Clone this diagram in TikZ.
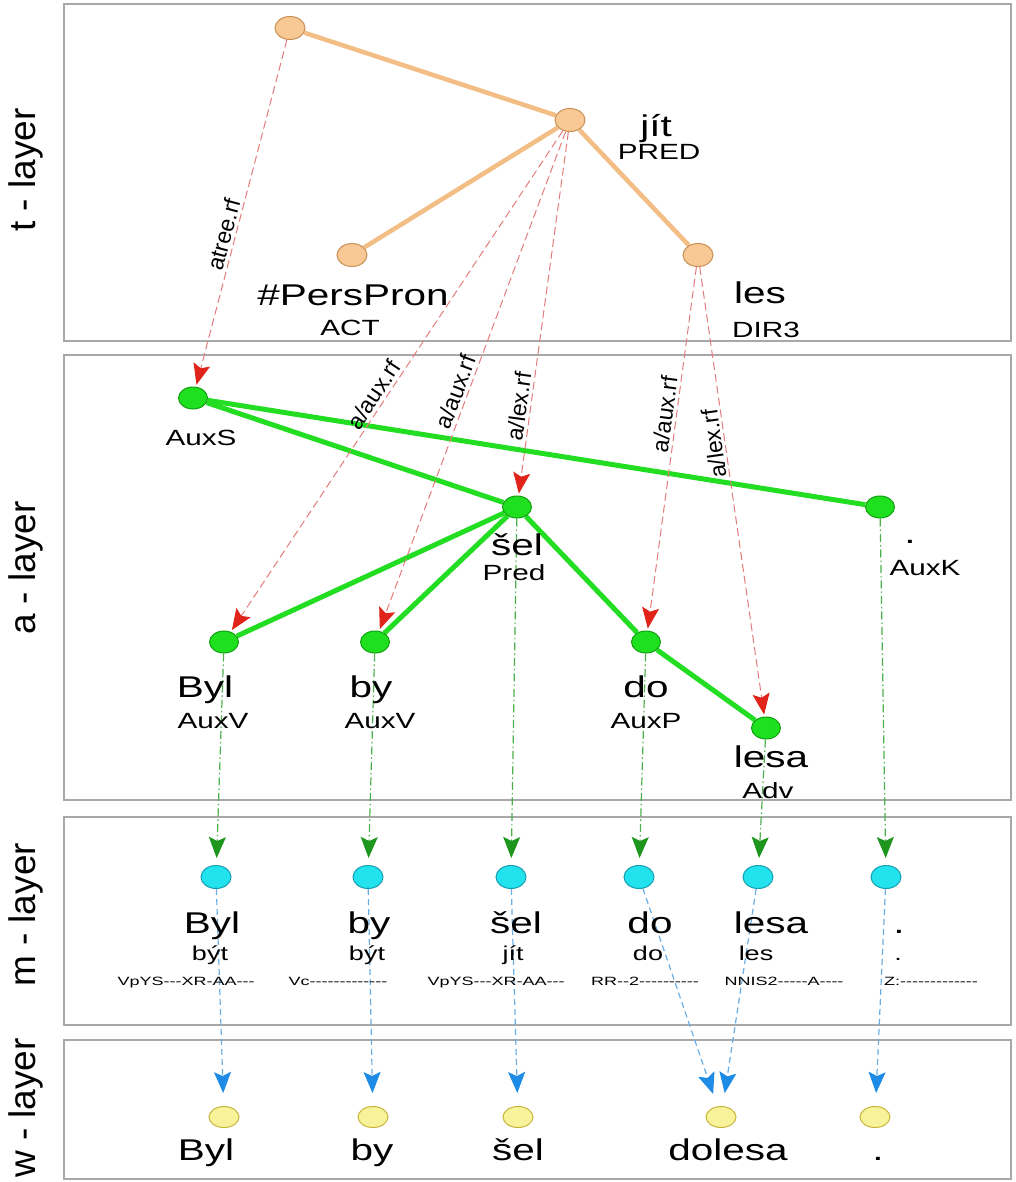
\documentclass[tikz,border=0pt]{standalone}
\usepackage{fontspec}
\setmainfont{Liberation Sans}
\newfontfamily\widefont{Liberation Sans}[FakeStretch=1.35]
\newfontfamily\tagfont{Liberation Sans}[FakeStretch=1.5,Ligatures=TeXOff]
\usetikzlibrary{arrows.meta,shapes.geometric}
\pgfdeclarelayer{bg}
\pgfsetlayers{bg,main}
\definecolor{tfill}{HTML}{F8C895}
\definecolor{tdraw}{HTML}{C98F55}
\definecolor{tedgec}{HTML}{F3BE85}
\definecolor{afill}{HTML}{1EE01E}
\definecolor{adraw}{HTML}{12A012}
\definecolor{aedgec}{HTML}{22DD22}
\definecolor{mfill}{HTML}{22E2EE}
\definecolor{mdraw}{HTML}{159FB0}
\definecolor{wfill}{HTML}{F8F29A}
\definecolor{wdraw}{HTML}{C7B53A}
\definecolor{refred}{HTML}{E57C7C}
\definecolor{arrred}{HTML}{E0241A}
\definecolor{refgreen}{HTML}{4CB04C}
\definecolor{arrgreen}{HTML}{1E961E}
\definecolor{refblue}{HTML}{6AAEE6}
\definecolor{arrblue}{HTML}{1E8CE6}
\definecolor{boxgray}{HTML}{A8A8A8}
\begin{document}
\begin{tikzpicture}[x=1pt,y=-1pt,
  nd/.style={ellipse, minimum width=30pt, minimum height=23pt, inner sep=0pt, line width=1pt},
  tn/.style={nd, fill=tfill, draw=tdraw},
  an/.style={nd, minimum width=29pt, minimum height=22pt, fill=afill, draw=adraw},
  mn/.style={nd, fill=mfill, draw=mdraw},
  wn/.style={nd, minimum height=21pt, fill=wfill, draw=wdraw},
  big/.style={font=\widefont\fontsize{30}{36}\selectfont, anchor=base, inner sep=0pt},
  small/.style={font=\widefont\fontsize{22}{26}\selectfont, anchor=base, inner sep=0pt},
  lemma/.style={font=\widefont\fontsize{20}{24}\selectfont, anchor=base, inner sep=0pt},
  tagl/.style={font=\tagfont\fontsize{12}{14}\selectfont, anchor=base, inner sep=0pt},
  side/.style={font=\fontsize{37}{40}\selectfont, rotate=90, anchor=base, inner sep=0pt},
  panel/.style={draw=boxgray, line width=1.5pt, fill=white},
  tedge/.style={draw=tedgec, line width=4.5pt},
  aedge/.style={draw=aedgec, line width=5pt},
  tip/.style={-{Stealth[length=21pt,width=17pt,inset=4pt,color=#1]}},
  tref/.style={draw=refred, line width=1pt, dash pattern=on 8pt off 4pt, shorten >=2pt, tip=arrred},
  aref/.style={draw=refgreen, line width=1.2pt, dash pattern=on 8pt off 3pt on 1.5pt off 3pt, shorten >=7pt, tip=arrgreen},
  mref/.style={draw=refblue, line width=1.2pt, dash pattern=on 6pt off 4pt, shorten >=13pt, tip=arrblue},
  rl/.style={font=\fontsize{23}{26}\selectfont, sloped, above=3pt, inner sep=0pt},
  rlr/.style={font=\fontsize{23}{26}\selectfont, rotate=98, anchor=south, inner sep=0pt, outer sep=3pt}
]
\useasboundingbox (0,0) rectangle (1015,1182);

% nodes
\node[tn] (troot) at (290,28) {};
\node[tn] (tjit) at (570,120) {};
\node[tn] (tpers) at (352,255) {};
\node[tn] (tles) at (698,255) {};
\node[an] (aauxs) at (193,398) {};
\node[an] (asel) at (517,507) {};
\node[an] (aauxk) at (880,507) {};
\node[an] (abyl) at (224,642) {};
\node[an] (aby) at (375,642) {};
\node[an] (ado) at (646,642) {};
\node[an] (alesa) at (766,728) {};
\node[mn] (mbyl) at (216,877) {};
\node[mn] (mby) at (368,877) {};
\node[mn] (msel) at (511,877) {};
\node[mn] (mdo) at (639,877) {};
\node[mn] (mlesa) at (758,877) {};
\node[mn] (mdot) at (886,877) {};
\node[wn] (wbyl) at (224,1117) {};
\node[wn] (wby) at (373,1117) {};
\node[wn] (wsel) at (518,1117) {};
\node[wn] (wdolesa) at (721,1117) {};
\node[wn] (wdot) at (875,1117) {};

\begin{pgfonlayer}{bg}
\fill[white] (0,0) rectangle (1015,1182);
\draw[panel] (64,4) rectangle (1011,341);
\draw[panel] (64,355) rectangle (1011,800);
\draw[panel] (64,817) rectangle (1011,1025);
\draw[panel] (64,1040) rectangle (1011,1179);
% tree edges
\draw[tedge] (troot) -- (tjit);
\draw[tedge] (tjit) -- (tpers);
\draw[tedge] (tjit) -- (tles);
\draw[aedge] (aauxs) -- (asel);
\draw[aedge] (aauxs) -- (aauxk);
\draw[aedge] (asel) -- (abyl);
\draw[aedge] (asel) -- (aby);
\draw[aedge] (asel) -- (ado);
\draw[aedge] (ado) -- (alesa);
% t -> a references
\draw[tref] (troot) -- node[rl,pos=0.57] (l1) {atree.rf} (aauxs);
\draw[tref] (tjit) -- node[rl,pos=0.54] (l2) {a/aux.rf} (abyl);
\draw[tref] (tjit) -- node[rl,pos=0.53] (l3) {a/aux.rf} (aby);
\draw[tref] (tjit) -- node[rl,pos=0.76] (l4) {a/lex.rf} (asel);
\draw[tref] (tles) -- node[rl,pos=0.41] (l5) {a/aux.rf} (ado);
\draw[tref] (tles) -- node[rlr,pos=0.39] (l6) {a/lex.rf} (alesa);
% a -> m references
\draw[aref] (abyl) -- (mbyl);
\draw[aref] (aby) -- (mby);
\draw[aref] (asel) -- (msel);
\draw[aref] (ado) -- (mdo);
\draw[aref] (alesa) -- (mlesa);
\draw[aref] (aauxk) -- (mdot);
% m -> w references
\draw[mref] (mbyl) -- (wbyl);
\draw[mref] (mby) -- (wby);
\draw[mref] (msel) -- (wsel);
\draw[mref] (mdo) -- (wdolesa);
\draw[mref] (mlesa) -- (wdolesa);
\draw[mref] (mdot) -- (wdot);
\end{pgfonlayer}

% side labels
\node[side] (st) at (35,170) {t - layer};
\node[side] (sa) at (35,568) {a - layer};
\node[side] (sm) at (35,915) {m - layer};
\node[side] (sw) at (35,1108) {w - layer};

% t-layer labels
\node[big] (tx1) at (656,137) {jít};
\node[small] (tx2) at (659,160) {PRED};
\node[big] (tx3) at (353,305) {\#PersPron};
\node[small] (tx4) at (350,335) {ACT};
\node[big] (tx5) at (760,303) {les};
\node[small] (tx6) at (766,337) {DIR3};

% a-layer labels
\node[small] (ax1) at (201,445) {AuxS};
\node[big] (ax2) at (517,555) {šel};
\node[small] (ax3) at (514,580) {Pred};
\node[big] (ax4) at (910,543) {.};
\node[small] (ax5) at (925,575) {AuxK};
\node[big] (ax6) at (205,697) {Byl};
\node[small] (ax7) at (213,728) {AuxV};
\node[big] (ax8) at (371,697) {by};
\node[small] (ax9) at (380,728) {AuxV};
\node[big] (ax10) at (646,697) {do};
\node[small] (ax11) at (646,728) {AuxP};
\node[big] (ax12) at (771,767) {lesa};
\node[small] (ax13) at (768,798) {Adv};

% m-layer labels
\node[big] (mx1) at (212,933) {Byl};
\node[big] (mx2) at (369,933) {by};
\node[big] (mx3) at (516,933) {šel};
\node[big] (mx4) at (650,933) {do};
\node[big] (mx5) at (771,933) {lesa};
\node[big] (mx6) at (899,933) {.};
\node[lemma] (ml1) at (210,960) {být};
\node[lemma] (ml2) at (367,960) {být};
\node[lemma] (ml3) at (513,960) {jít};
\node[lemma] (ml4) at (648,960) {do};
\node[lemma] (ml5) at (756,960) {les};
\node[lemma] (ml6) at (898,960) {.};
\node[tagl] (mt1) at (186,985) {VpYS---XR-AA---};
\node[tagl] (mt2) at (338,985) {Vc-------------};
\node[tagl] (mt3) at (496,985) {VpYS---XR-AA---};
\node[tagl] (mt4) at (645,985) {RR--2----------};
\node[tagl] (mt5) at (784,985) {NNIS2-----A----};
\node[tagl] (mt6) at (931,985) {Z:-------------};

% w-layer labels
\node[big] (wx1) at (206,1160) {Byl};
\node[big] (wx2) at (372,1160) {by};
\node[big] (wx3) at (518,1160) {šel};
\node[big] (wx4) at (728,1160) {dolesa};
\node[big] (wx5) at (878,1160) {.};
\end{tikzpicture}
\end{document}
